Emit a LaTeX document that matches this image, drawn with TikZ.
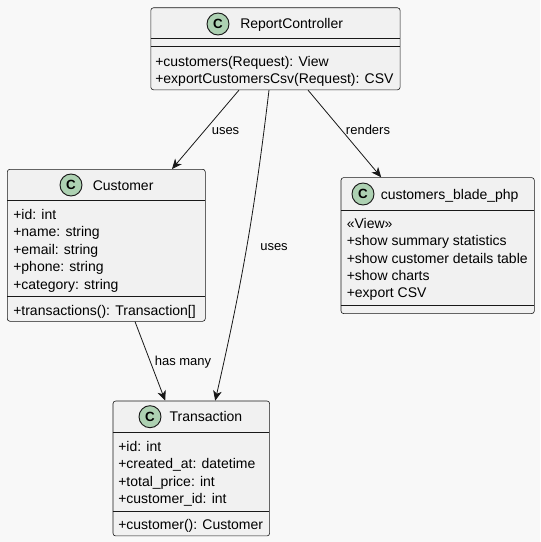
\documentclass[tikz,border=0pt]{standalone}
\usepackage{fontspec}
\setmainfont{Liberation Sans}
\usetikzlibrary{arrows.meta,calc}

\definecolor{bgcol}{HTML}{F8F8F8}
\definecolor{boxcol}{HTML}{F1F1F1}
\definecolor{linecol}{HTML}{181818}
\definecolor{iconcol}{HTML}{ADD1B2}

\tikzset{
  classbox/.style={draw=linecol, line width=0.45pt, fill=boxcol, rounded corners=2pt,
    anchor=north west, inner sep=0pt},
  sepline/.style={draw=linecol, line width=0.45pt},
  icon/.style={circle, draw=linecol, line width=0.7pt, fill=iconcol, minimum size=16.5pt,
    inner sep=0pt, font=\fontsize{10}{10}\selectfont\bfseries},
  cname/.style={anchor=base west, inner sep=0pt, font=\fontsize{10.5}{12}\selectfont},
  member/.style={anchor=base west, inner sep=0pt, font=\fontsize{10.5}{12}\selectfont},
  rel/.style={draw=linecol, line width=0.6pt, -{Stealth[length=7.5pt,width=6.5pt,inset=2.2pt]}},
  rellabel/.style={anchor=base, inner sep=0pt, font=\fontsize{9.75}{11}\selectfont}
}

\begin{document}
\begin{tikzpicture}[x=0.75pt, y=-0.75pt]
    % Canvas
    \fill[bgcol] (0,0) rectangle (540,542);
    \useasboundingbox (0,0) rectangle (540,542);

    % ReportController
    \node[classbox, minimum width=187pt, minimum height=61.5pt] (rc) at (150.5,7.5) {};
    \draw[sepline] (150.5,38.5) -- (400,38.5);
    \draw[sepline] (150.5,46.5) -- (400,46.5);
    \node[icon] (rcicon) at (218,24) {C};
    \node[cname] (rcname) at (240,29) {ReportController};
    \node[member] (rcm1) at (155,67) {+customers(Request): View};
    \node[member] (rcm2) at (155,83.5) {+exportCustomersCsv(Request): CSV};

    % Customer
    \node[classbox, minimum width=148.5pt, minimum height=114pt] (cust) at (7,169) {};
    \draw[sepline] (7,200.5) -- (205,200.5);
    \draw[sepline] (7,296) -- (205,296);
    \node[icon] (custicon) at (71,185) {C};
    \node[cname] (custname) at (92.5,190) {Customer};
    \node[member] (custa1) at (13,219) {+id: int};
    \node[member] (custa2) at (13,236.5) {+name: string};
    \node[member] (custa3) at (13,254) {+email: string};
    \node[member] (custa4) at (13,271.5) {+phone: string};
    \node[member] (custa5) at (13,289) {+category: string};
    \node[member] (custm1) at (13,315) {+transactions(): Transaction[]};

    % customers_blade_php
    \node[classbox, minimum width=145pt, minimum height=102pt] (blade) at (340.7,177.3) {};
    \draw[sepline] (340.7,210) -- (534,210);
    \draw[sepline] (340.7,305.5) -- (534,305.5);
    \node[icon] (bladeicon) at (363,194) {C};
    \node[cname] (bladename) at (380.5,199) {customers\_blade\_php};
    \node[member] (bladea1) at (346.5,228) {«View»};
    \node[member] (bladea2) at (346.5,245.5) {+show summary statistics};
    \node[member] (bladea3) at (346.5,263) {+show customer details table};
    \node[member] (bladea4) at (346.5,280) {+show charts};
    \node[member] (bladea5) at (346.5,297.5) {+export CSV};

    % Transaction
    \node[classbox, minimum width=117.5pt, minimum height=101.2pt] (trans) at (112.7,400.7) {};
    \draw[sepline] (112.7,432) -- (269.3,432);
    \draw[sepline] (112.7,511) -- (269.3,511);
    \node[icon] (transicon) at (150,416.7) {C};
    \node[cname] (transname) at (169.3,421.7) {Transaction};
    \node[member] (transa1) at (118,451) {+id: int};
    \node[member] (transa2) at (118,468.5) {+created\_at: datetime};
    \node[member] (transa3) at (118,486) {+total\_price: int};
    \node[member] (transa4) at (118,503.5) {+customer\_id: int};
    \node[member] (transm1) at (118,529) {+customer(): Customer};

    % Relations
    \draw[rel] ($(rc.south west)+(88.5,0)$) -- ($(cust.north west)+(165,0)$);
    \draw[rel] ($(rc.south west)+(118.5,0)$) to[bend left=3] ($(trans.north west)+(102.5,0)$);
    \draw[rel] ($(rc.south west)+(157.5,0)$) -- ($(blade.north west)+(40.5,0)$);
    \draw[rel] ($(cust.south west)+(128,0)$) -- ($(trans.north west)+(52.5,0)$);

    \node[rellabel] (l1) at (225.5,134) {uses};
    \node[rellabel] (l2) at (274,250.5) {uses};
    \node[rellabel] (l3) at (368,134) {renders};
    \node[rellabel] (l4) at (183,365.5) {has many};
\end{tikzpicture}
\end{document}
